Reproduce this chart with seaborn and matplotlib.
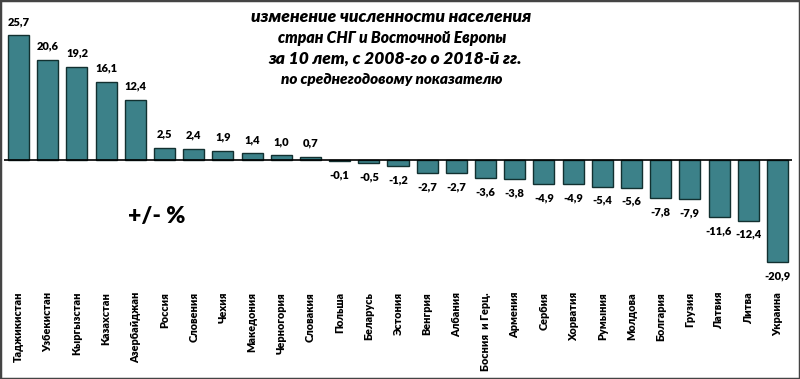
import matplotlib
matplotlib.use("Agg")
import matplotlib.pyplot as plt
import seaborn as sns
import pandas as pd
from matplotlib.patches import Rectangle

countries = ["Таджикистан", "Узбекистан", "Кыргызстан", "Казахстан", "Азербайджан",
             "Россия", "Словения", "Чехия", "Македония", "Черногория", "Словакия",
             "Польша", "Беларусь", "Эстония", "Венгрия", "Албания", "Босния  и Герц.",
             "Армения", "Сербия", "Хорватия", "Румыния", "Молдова", "Болгария",
             "Грузия", "Латвия", "Литва", "Украина"]
values = [25.7, 20.6, 19.2, 16.1, 12.4, 2.5, 2.4, 1.9, 1.4, 1.0, 0.7,
          -0.1, -0.5, -1.2, -2.7, -2.7, -3.6, -3.8, -4.9, -4.9, -5.4, -5.6,
          -7.8, -7.9, -11.6, -12.4, -20.9]

title_lines = ["изменение численности населения",
               "стран СНГ и Восточной Европы",
               "за 10 лет, с 2008-го о 2018-й гг.",
               "по среднегодовому показателю"]
unit_label = "+/- %"

sns.set_theme(style="white")
plt.rcParams["font.family"] = ["Lato", "DejaVu Sans"]
plt.rcParams["text.color"] = "black"
plt.rcParams["xtick.color"] = "black"

df = pd.DataFrame({"country": countries, "value": values})

W, H = 800, 379
fig = plt.figure(figsize=(W / 100, H / 100), dpi=100)
fig.patch.set_facecolor("white")

top_px, bot_px = 5, 285
scale = 4.86
zero_px = 160.3
ax = fig.add_axes([4 / W, 1 - bot_px / H, 788 / W, (bot_px - top_px) / H])
sns.barplot(data=df, x="country", y="value", color="#3c8189", width=0.72,
            edgecolor="#123030", linewidth=1.0, ax=ax, saturation=1)
ax.set_xlim(-0.5, 26.5)
ax.set_ylim((zero_px - bot_px) / scale, (zero_px - top_px) / scale)
ax.axhline(0, color="black", lw=1.2)
for s in ax.spines.values():
    s.set_visible(False)
ax.set_xlabel("")
ax.set_ylabel("")
ax.set_yticks([])
ax.tick_params(axis="x", length=0, pad=5, colors="black")
ax.set_facecolor("none")
for lbl in ax.get_xticklabels():
    lbl.set_rotation(90)
    lbl.set_va("top")
    lbl.set_ha("center")
    lbl.set_fontsize(7.8)
    lbl.set_fontweight("heavy")
    lbl.set_color("black")

for i, v in enumerate(values):
    txt = f"{v:.1f}".replace(".", ",")
    if v >= 0:
        ax.annotate(txt, (i, v), xytext=(0, 6), textcoords="offset points",
                    ha="center", va="bottom", fontsize=8, fontweight="heavy", color="black")
    else:
        ax.annotate(txt, (i, v), xytext=(0, -6), textcoords="offset points",
                    ha="center", va="top", fontsize=8, fontweight="heavy", color="black")

tkw = dict(ha="center", va="center", fontweight="heavy", style="italic", color="black")
fig.text(391 / W, 1 - 17 / H, title_lines[0], fontsize=12.6, **tkw)
fig.text(392 / W, 1 - 38 / H, title_lines[1], fontsize=11.3, **tkw)
fig.text(395 / W, 1 - 59 / H, title_lines[2], fontsize=12.5, **tkw)
fig.text(392 / W, 1 - 79 / H, title_lines[3], fontsize=11, **tkw)
fig.text(157 / W, 1 - 217 / H, unit_label, ha="center", va="center",
         fontsize=16.5, fontweight="heavy", color="black")

fig.patches.append(Rectangle((0, 0), 1, 1, transform=fig.transFigure,
                             fill=False, edgecolor="#444444", lw=2.5))

fig.savefig("out.png", dpi=100)
